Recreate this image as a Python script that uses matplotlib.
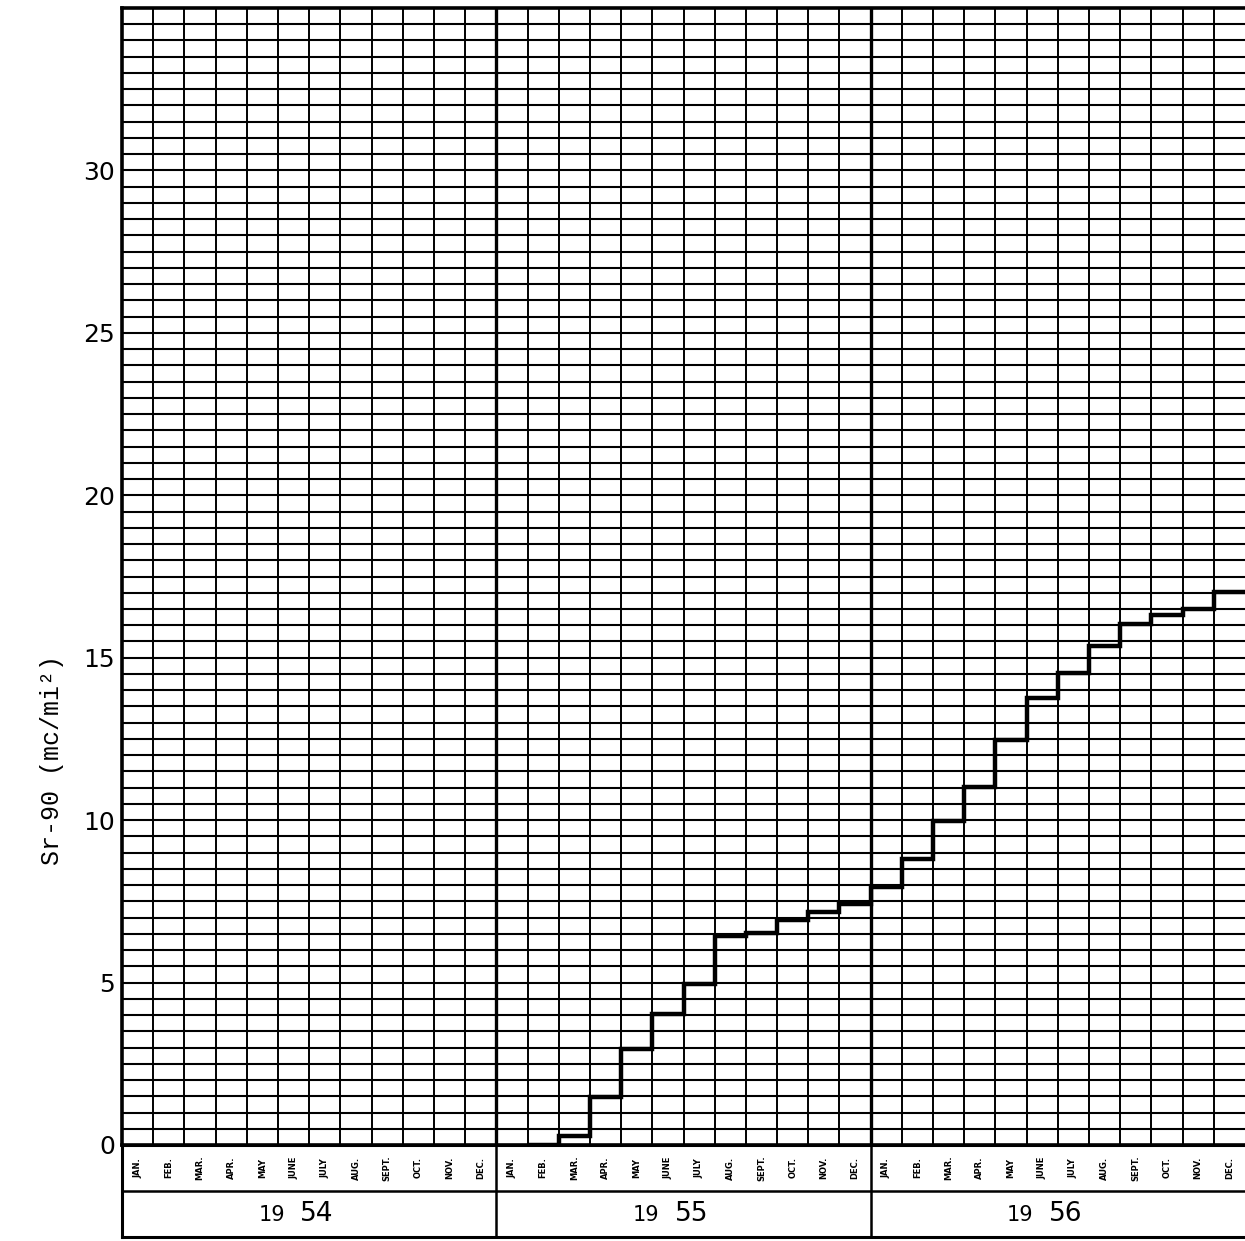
import numpy as np
import matplotlib.pyplot as plt

YEARS = ["1954", "1955", "1956"]
MONTHS = ["JAN.", "FEB.", "MAR.", "APR.", "MAY", "JUNE",
          "JULY", "AUG.", "SEPT.", "OCT.", "NOV.", "DEC."]

# cumulative Sr-90 deposit (mc/mi^2), monthly from FEB 1955 to DEC 1956
START_MONTH = 13  # months after JAN 1954
SR90 = [0.0,
        0.28, 1.49, 2.97, 4.02, 4.95, 6.44, 6.54, 6.93, 7.16, 7.43,
        7.95, 8.81, 9.98, 11.03, 12.48, 13.76, 14.53, 15.37, 16.04, 16.31, 16.50, 17.03]
Y_TICKS = [0, 5, 10, 15, 20, 25, 30]

W, H = 1245, 1241
fig = plt.figure(figsize=(W / 100, H / 100), dpi=100)

x0, x1 = 122, 1245
ytop, ybot, yband = 8, 1145, 1237
ax = fig.add_axes([x0 / W, (H - ybot) / H, (x1 - x0) / W, (ybot - ytop) / H])
band = fig.add_axes([x0 / W, (H - yband) / H, (x1 - x0) / W, (yband - ybot) / H])

n_months = 12 * len(YEARS)

# graph paper
ax.set_xlim(0, n_months)
ax.set_ylim(0, 35)
for y in np.arange(0.5, 35, 0.5):
    ax.axhline(y, color="black", lw=1.5, zorder=1)
for m in range(1, n_months):
    ax.axvline(m, color="black", lw=2.4 if m % 12 == 0 else 1.4, zorder=1)

edges = np.arange(START_MONTH, START_MONTH + len(SR90) + 1)
ax.stairs(SR90, edges, baseline=None, color="black", lw=3.2, zorder=3)

ax.set_xticks([])
ax.set_yticks(Y_TICKS)
ax.set_yticklabels([str(t) for t in Y_TICKS])
ax.tick_params(axis="y", length=0, pad=5, labelsize=18)
for s in ["left", "bottom", "top"]:
    ax.spines[s].set_linewidth(2.6)
ax.spines["right"].set_visible(False)

# month / year band
band.set_xlim(0, n_months)
band.set_ylim(0, 2)
band.axhline(1.0, color="black", lw=1.8)
for k in range(1, len(YEARS)):
    band.axvline(12 * k, color="black", lw=1.8)
for m in range(n_months):
    band.text(m + 0.5, 1.5, MONTHS[m % 12], rotation=90, ha="center", va="center",
              fontsize=6, fontweight="bold")
for k, yr in enumerate(YEARS):
    band.text(12 * k + 4.8, 0.47, yr[:2], ha="center", va="center", fontsize=15)
    band.text(12 * k + 6.25, 0.5, yr[2:], ha="center", va="center", fontsize=19)
band.set_xticks([])
band.set_yticks([])
for s in ["left", "bottom", "top"]:
    band.spines[s].set_linewidth(2.2)
band.spines["right"].set_visible(False)

fig.text(52 / W, 1 - 760 / H, "Sr-90 (mc/mi²)", rotation=90, ha="center", va="center",
         family="Liberation Mono", fontsize=18)

fig.savefig("out.png", dpi=100)
